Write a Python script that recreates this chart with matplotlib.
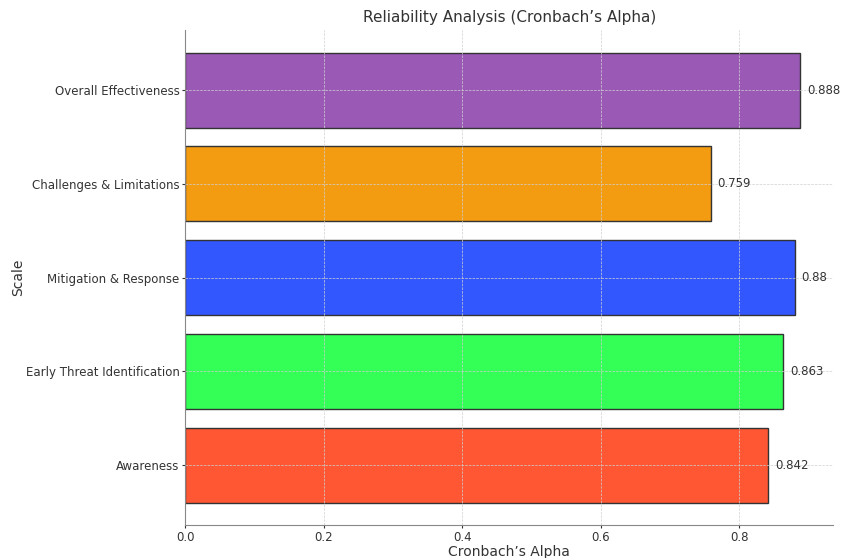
import matplotlib
matplotlib.use('Agg')
import matplotlib.pyplot as plt

scales = ['Awareness', 'Early Threat Identification', 'Mitigation & Response',
          'Challenges & Limitations', 'Overall Effectiveness']
alphas = [0.842, 0.863, 0.88, 0.759, 0.888]
colors = ['#FF5733', '#33FF57', '#3357FF', '#F39C12', '#9B59B6']

fig = plt.figure(figsize=(8.41, 5.58), dpi=100)
ax = fig.add_axes([0.22, 0.059, 0.771, 0.887])

ax.barh(scales, alphas, color=colors, edgecolor='#333333', linewidth=1, height=0.8)
for i, v in enumerate(alphas):
    ax.text(v + 0.01, i, str(v), va='center', fontsize=8.5, color='#333333')

ax.set_xlim(0, 0.936)
ax.set_title("Reliability Analysis (Cronbach\u2019s Alpha)", fontsize=11, color='#333333')
ax.set_xlabel("Cronbach\u2019s Alpha", fontsize=10, color='#333333', labelpad=1)
ax.set_ylabel('Scale', fontsize=10, color='#333333', labelpad=0)
ax.tick_params(labelsize=8.5, colors='#333333', length=2, pad=2)
ax.grid(True, linestyle='--', linewidth=0.5, color='#d0d0d0')
ax.spines['top'].set_visible(False)
ax.spines['right'].set_visible(False)
ax.spines['left'].set_color('#888888')
ax.spines['bottom'].set_color('#888888')

fig.savefig('out.png', dpi=100)
